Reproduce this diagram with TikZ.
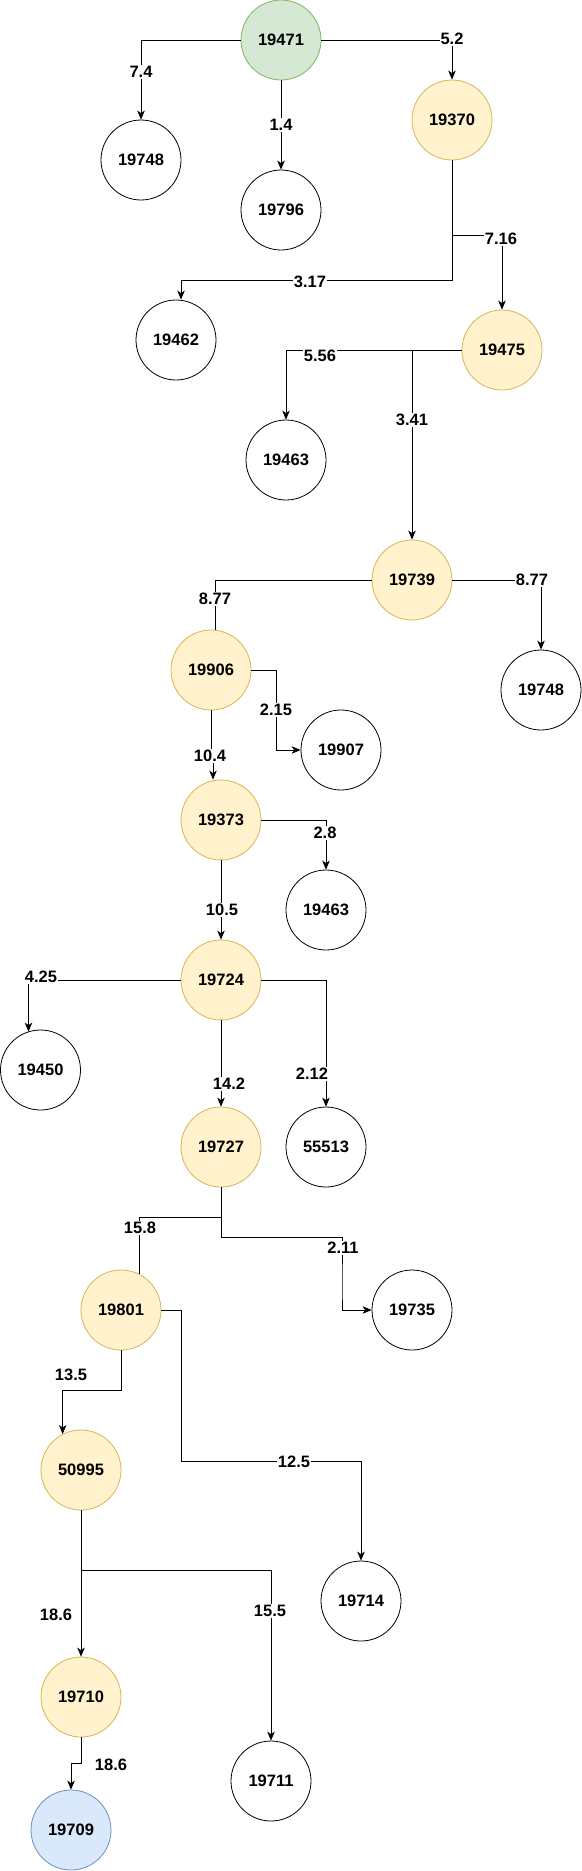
\documentclass[tikz,border=0pt]{standalone}
\usepackage{fontspec}
\setmainfont{Liberation Sans}
\usetikzlibrary{arrows.meta}
\definecolor{gfill}{HTML}{D5E8D4}
\definecolor{gline}{HTML}{82B366}
\definecolor{yfill}{HTML}{FFF2CC}
\definecolor{yline}{HTML}{D6B656}
\definecolor{bfill}{HTML}{DAE8FC}
\definecolor{bline}{HTML}{6C8EBF}
\tikzset{
  vtx/.style={circle, draw=black, fill=white, line width=0.8pt, minimum size=80pt, inner sep=0pt,
    font=\fontsize{16.5}{19}\selectfont\bfseries},
  startv/.style={vtx, draw=gline, fill=gfill},
  pathv/.style={vtx, draw=yline, fill=yfill},
  endv/.style={vtx, draw=bline, fill=bfill},
  conn/.style={line width=0.8pt, -{Stealth[length=9pt,width=7.5pt,inset=2.5pt]}},
  plainconn/.style={line width=0.8pt},
  lbl/.style={fill=white, inner sep=1pt, font=\fontsize{16.5}{19}\selectfont\bfseries}
}
\begin{document}
\begin{tikzpicture}[x=1pt,y=-1pt]
\useasboundingbox (0,0) rectangle (581,1871);
% nodes
\node[startv] (n19471) at (281,40) {19471};
\node[vtx] (n19748a) at (141,160) {19748};
\node[vtx] (n19796) at (281,210) {19796};
\node[pathv] (n19370) at (452,120) {19370};
\node[vtx] (n19462) at (176,340) {19462};
\node[pathv] (n19475) at (502,350) {19475};
\node[vtx] (n19463a) at (286,460) {19463};
\node[pathv] (n19739) at (412,580) {19739};
\node[pathv] (n19906) at (211,670) {19906};
\node[vtx] (n19748b) at (541,690) {19748};
\node[vtx] (n19907) at (341,750) {19907};
\node[pathv] (n19373) at (221,820) {19373};
\node[vtx] (n19463b) at (326,910) {19463};
\node[pathv] (n19724) at (221,980) {19724};
\node[vtx] (n19450) at (40.5,1070) {19450};
\node[vtx] (n55513) at (326,1147) {55513};
\node[pathv] (n19727) at (221,1147) {19727};
\node[pathv] (n19801) at (121,1310) {19801};
\node[vtx] (n19735) at (412,1310) {19735};
\node[pathv] (n50995) at (81,1470) {50995};
\node[vtx] (n19714) at (361,1601) {19714};
\node[pathv] (n19710) at (81,1697) {19710};
\node[vtx] (n19711) at (271,1781) {19711};
\node[endv] (n19709) at (71,1830) {19709};
% connectors
\draw[conn] (n19471.west) -| (n19748a.north) node[lbl] at (141,72) {7.4};
\draw[conn] (n19471.south) -- (n19796.north) node[lbl] at (281,125) {1.4};
\draw[conn] (n19471.east) -| (n19370.north) node[lbl] at (452,39) {5.2};
\draw[conn] (n19370.south) -- ++(0,120) -| ([xshift=5pt]n19462.north) node[lbl] at (310,282) {3.17};
\draw[conn] (n19370.south) -- ++(0,75) -| (n19475.north) node[lbl] at (501,239) {7.16};
\draw[conn] (n19475.west) -| (n19463a.north) node[lbl] at (320,356) {5.56};
\draw[conn] (n19475.west) -| (n19739.north) node[lbl] at (412,420) {3.41};
\draw[plainconn] (n19739.west) -| (n19906.84) node[lbl] at (215,599) {8.77};
\draw[conn] (n19739.east) -| (n19748b.north) node[lbl] at (532,580) {8.77};
\draw[conn] (n19906.east) -- ++(25,0) |- (n19907.west) node[lbl] at (276,710) {2.15};
\draw[conn] (n19906.south) -- ++(0,45) -| ([xshift=-8pt]n19373.north) node[lbl] at (210,756) {10.4};
\draw[conn] (n19373.east) -| (n19463b.north) node[lbl] at (325,833) {2.8};
\draw[conn] (n19373.south) -- (n19724.north) node[lbl] at (222,910) {10.5};
\draw[conn] (n19724.west) -| ([xshift=-12pt,yshift=-2pt]n19450.north) node[lbl] at (41,977) {4.25};
\draw[conn] (n19724.east) -| (n55513.north) node[lbl] at (312,1074) {2.12};
\draw[conn] (n19724.south) -- (n19727.north) node[lbl] at (229,1084) {14.2};
\draw[plainconn] (n19727.south) -- ++(0,30) -| (n19801.63) node[lbl] at (140,1228) {15.8};
\draw[conn] (n19727.south) -- ++(0,50) -| (342,1290) |- (n19735.west) node[lbl] at (343,1248) {2.11};
\draw[conn] (n19801.south) -- ++(0,40) -| (n50995.117) node[lbl] at (71,1375) {13.5};
\draw[conn] (n19801.east) -- ++(20,0) -- ++(0,151) -| (n19714.north) node[lbl] at (294,1462) {12.5};
\draw[conn] (n50995.south) -- (n19710.north) node[lbl] at (56,1615) {18.6};
\draw[conn] (n50995.south) -- ++(0,60) -| (n19711.north) node[lbl] at (270,1611) {15.5};
\draw[conn] (n19710.south) -- ++(0,26) -| (n19709.north) node[lbl] at (111,1765) {18.6};
\end{tikzpicture}
\end{document}
